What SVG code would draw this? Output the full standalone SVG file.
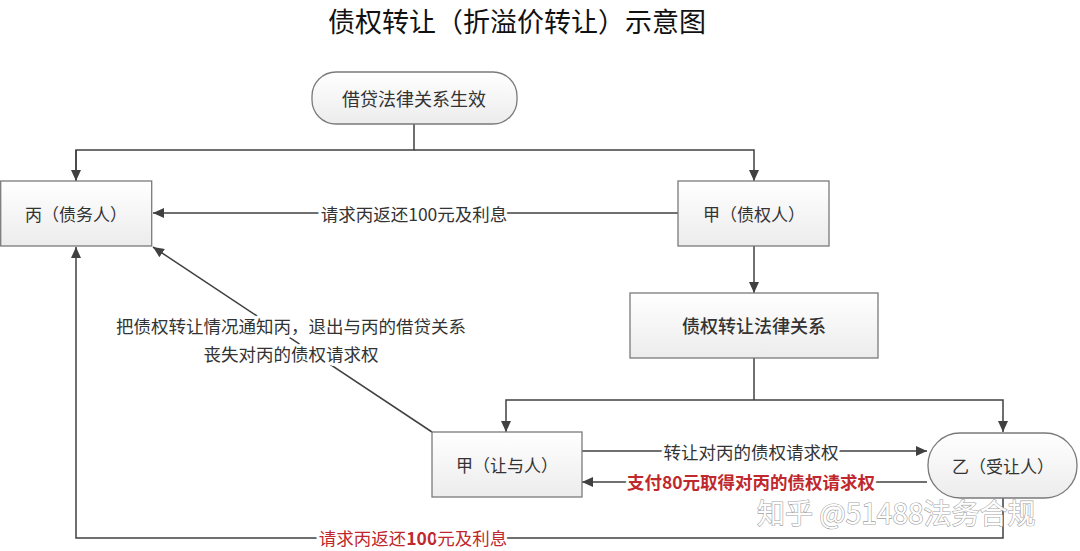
<svg xmlns="http://www.w3.org/2000/svg" width="1080" height="551" viewBox="0 0 1080 551">
<defs>
<linearGradient id="g" x1="0" y1="0" x2="0" y2="1">
<stop offset="0" stop-color="#ffffff"/>
<stop offset="1" stop-color="#ececec"/>
</linearGradient>
<marker id="ah" markerUnits="userSpaceOnUse" markerWidth="12" markerHeight="10" refX="11" refY="5" orient="auto">
<path d="M0,0 L11,5 L0,10 z" fill="#404040"/>
</marker>
<style>
.box{fill:url(#g);stroke:#7a7a7a;stroke-width:1.3}
.t{font-family:"Noto Sans CJK SC","Microsoft YaHei",sans-serif;font-size:17px;fill:#333;text-anchor:middle;dominant-baseline:central}
.c{fill:none;stroke:#404040;stroke-width:1.5}
.a{marker-end:url(#ah)}
.lb{font-family:"Noto Sans CJK SC",sans-serif;font-size:17.5px;fill:#333;text-anchor:middle;dominant-baseline:central;stroke:#fff;stroke-width:6px;paint-order:stroke;stroke-linejoin:round}
.red{fill:#c0282d;font-weight:bold}
</style>
</defs>
<rect width="1080" height="551" fill="#fff"/>
<text x="517" y="20" class="t" style="font-size:27px;fill:#111">债权转让（折溢价转让）示意图</text>

<g id="connectors">
<path class="c" d="M414,124 V150 H76 V181"/>
<path class="c a" d="M414,150 H754 V181"/>
<path class="c a" d="M76,150 V181"/>
<path class="c a" d="M678,213 H153"/>
<path class="c a" d="M754,246 V293"/>
<path class="c" d="M754,358 V400"/>
<path class="c a" d="M754,400 H506 V432"/>
<path class="c a" d="M754,400 H1003 V432"/>
<path class="c a" d="M432,432 L153,247"/>
<path class="c a" d="M582,451 H927"/>
<path class="c a" d="M927,482 H582"/>
<path class="c a" d="M1003,498 V538 H76 V247"/>
</g>

<g id="labels">
<text x="414" y="213" class="lb">请求丙返还100元及利息</text>
<text x="291" y="325" class="lb">把债权转让情况通知丙，退出与丙的借贷关系</text>
<text x="291" y="353" class="lb">丧失对丙的债权请求权</text>
<text x="751" y="451" class="lb">转让对丙的债权请求权</text>
<text x="751" y="481" class="lb red">支付80元取得对丙的债权请求权</text>
<text x="413" y="537" class="lb red" style="font-weight:normal">请求丙返还<tspan font-weight="bold">100</tspan>元及利息</text>
</g>

<g id="start"><rect class="box" x="312" y="72" width="205" height="52" rx="24"/><text x="414" y="98" class="t" style="font-size:18px">借贷法律关系生效</text></g>
<g id="bing"><rect class="box" x="0.7" y="181" width="151" height="65"/><text x="76" y="213" class="t">丙（债务人）</text></g>
<g id="jia-creditor"><rect class="box" x="678" y="181" width="151" height="65"/><text x="754" y="213" class="t">甲（债权人）</text></g>
<g id="transfer"><rect class="box" x="630" y="293" width="248" height="65"/><text x="754" y="325" class="t" style="font-size:18px;font-weight:500">债权转让法律关系</text></g>
<g id="jia-assignor"><rect class="box" x="432" y="432" width="150" height="65"/><text x="507" y="464" class="t">甲（让与人）</text></g>
<g id="yi"><rect class="box" x="928" y="433" width="149" height="65" rx="32"/><text x="1003" y="465" class="t">乙（受让人）</text></g>

<text x="757" y="524" style="font-family:'Noto Sans CJK SC',sans-serif;font-size:28px;fill:#fff;stroke:#999;stroke-width:1.2;paint-order:stroke" opacity="0.9">知乎 @51488法务合规</text>
</svg>
